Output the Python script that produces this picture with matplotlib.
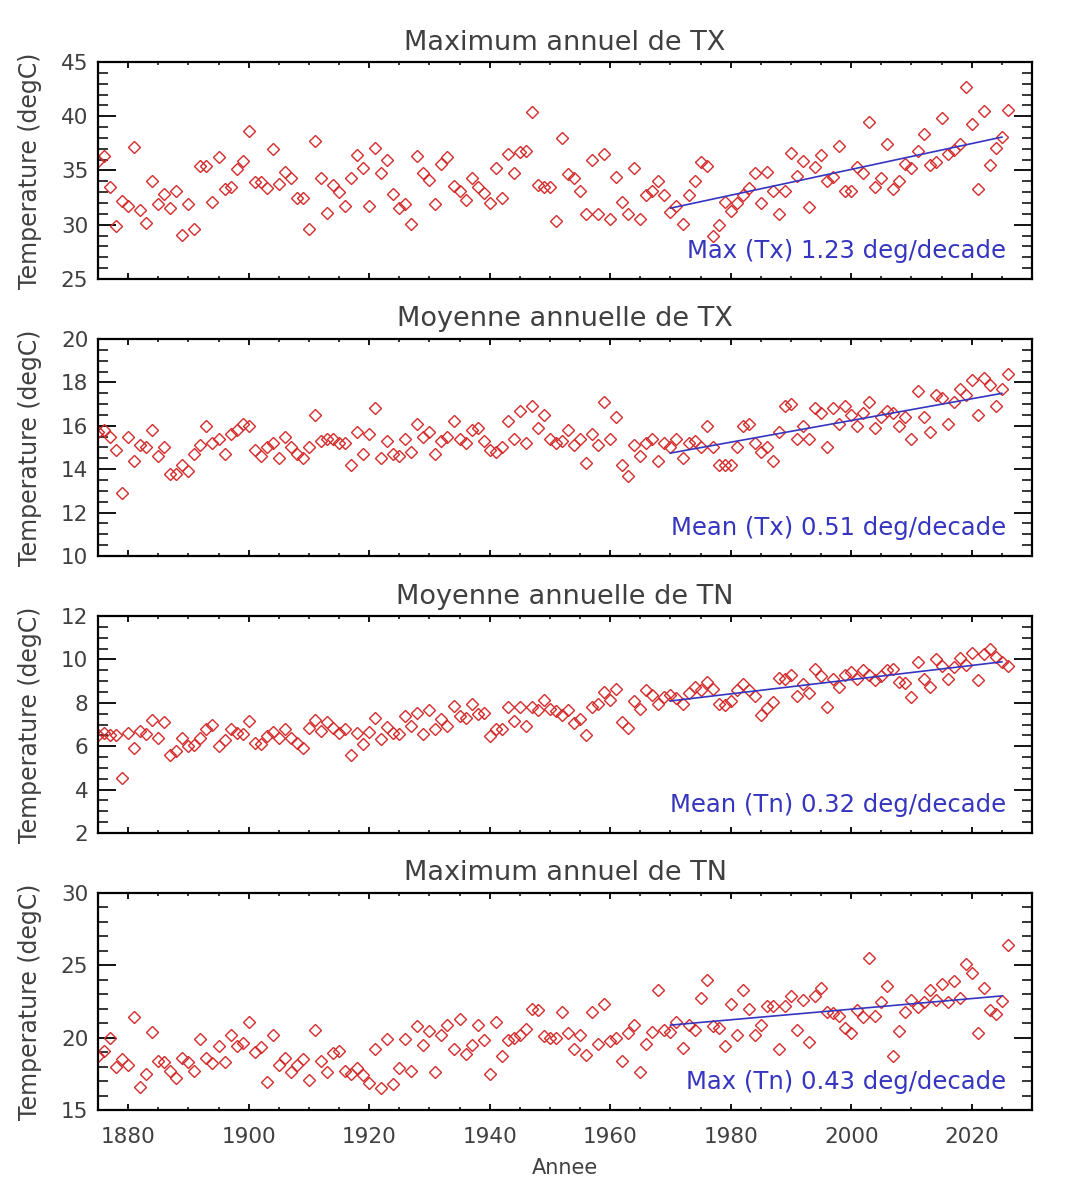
import matplotlib.pyplot as plt
from matplotlib.ticker import MultipleLocator
import numpy as np

# annual series, 1875 -> 2026
years = np.arange(1875, 2027)

tx_max = [35.9, 36.3, 33.5, 29.9, 32.2,
          31.7, 37.2, 31.4, 30.2, 34.0, 31.9, 32.8, 31.5, 33.1, 29.1,
          31.9, 29.6, 35.4, 35.4, 32.1, 36.2, 33.3, 33.5, 35.1, 35.9,
          38.6, 33.9, 33.9, 33.4, 37.0, 33.8, 34.9, 34.3, 32.5, 32.5,
          29.6, 37.7, 34.3, 31.1, 33.7, 33.0, 31.7, 34.3, 36.4, 35.2,
          31.7, 37.1, 34.8, 36.0, 32.8, 31.5, 31.9, 30.1, 36.3, 34.8,
          34.1, 31.9, 35.6, 36.2, 33.6, 33.1, 32.3, 34.3, 33.5, 32.9,
          32.0, 35.2, 32.5, 36.5, 34.8, 36.7, 36.8, 40.4, 33.7, 33.5,
          33.5, 30.3, 38.0, 34.7, 34.3, 33.1, 31.0, 36.0, 31.0, 36.5,
          30.5, 34.4, 32.1, 31.0, 35.2, 30.5, 32.7, 33.1, 34.0, 32.7,
          31.2, 31.7, 30.1, 32.7, 34.0, 35.8, 35.4, 29.0, 30.0, 32.1,
          31.3, 32.0, 32.7, 33.4, 34.8, 32.0, 34.9, 33.1, 31.0, 33.1,
          36.6, 34.5, 35.9, 31.6, 35.3, 36.4, 34.0, 34.4, 37.3, 33.1,
          33.1, 35.3, 34.8, 39.5, 33.5, 34.3, 37.4, 33.3, 34.0, 35.6,
          35.2, 36.8, 38.4, 35.5, 35.8, 39.8, 36.5, 36.9, 37.4, 42.7,
          39.3, 33.3, 40.5, 35.5, 37.1, 38.1, 40.6]

tx_mean = [15.7, 15.8, 15.5, 14.9, 12.9,
           15.5, 14.4, 15.1, 15.0, 15.8, 14.6, 15.0, 13.8, 13.8, 14.2,
           13.9, 14.7, 15.1, 16.0, 15.2, 15.4, 14.7, 15.6, 15.8, 16.1,
           16.0, 14.9, 14.6, 15.0, 15.2, 14.5, 15.5, 15.0, 14.7, 14.5,
           15.0, 16.5, 15.3, 15.4, 15.4, 15.2, 15.2, 14.2, 15.7, 14.7,
           15.6, 16.8, 14.5, 15.3, 14.7, 14.6, 15.4, 14.8, 16.1, 15.5,
           15.7, 14.7, 15.3, 15.5, 16.2, 15.4, 15.2, 15.8, 15.9, 15.3,
           14.9, 14.8, 15.0, 16.2, 15.4, 16.7, 15.2, 16.9, 15.9, 16.5,
           15.4, 15.2, 15.3, 15.8, 15.1, 15.4, 14.3, 15.6, 15.1, 17.1,
           15.4, 16.4, 14.2, 13.7, 15.1, 14.6, 15.2, 15.4, 14.4, 15.2,
           15.0, 15.4, 14.5, 15.2, 15.3, 15.0, 16.0, 15.0, 14.2, 14.2,
           14.2, 15.0, 16.0, 16.1, 15.2, 14.8, 15.0, 14.4, 15.7, 16.9,
           17.0, 15.4, 16.0, 15.4, 16.8, 16.6, 15.0, 16.8, 16.1, 16.9,
           16.5, 16.0, 16.6, 17.1, 15.9, 16.4, 16.7, 16.6, 16.0, 16.4,
           15.4, 17.6, 16.4, 15.7, 17.4, 17.3, 16.1, 17.1, 17.7, 17.4,
           18.1, 16.5, 18.2, 17.9, 16.9, 17.7, 18.4]

tn_mean = [6.5, 6.6, 6.5, 6.5, 4.55,
           6.6, 5.9, 6.7, 6.55, 7.2, 6.4, 7.1, 5.6, 5.8, 6.4,
           6.0, 6.05, 6.4, 6.8, 7.0, 6.0, 6.3, 6.8, 6.6, 6.55,
           7.15, 6.15, 6.1, 6.45, 6.65, 6.4, 6.8, 6.4, 6.15, 5.9,
           6.85, 7.2, 6.7, 7.1, 6.85, 6.6, 6.8, 5.6, 6.6, 6.1,
           6.65, 7.3, 6.35, 6.9, 6.6, 6.55, 7.4, 6.95, 7.55, 6.55,
           7.65, 6.8, 7.25, 6.95, 7.85, 7.4, 7.3, 7.95, 7.5, 7.55,
           6.45, 6.8, 6.8, 7.8, 7.15, 7.8, 6.95, 7.8, 7.65, 8.15,
           7.7, 7.6, 7.45, 7.65, 7.05, 7.25, 6.5, 7.8, 7.95, 8.5,
           8.15, 8.65, 7.1, 6.85, 8.1, 7.7, 8.6, 8.35, 7.95, 8.25,
           8.35, 8.2, 7.95, 8.45, 8.75, 8.6, 8.95, 8.65, 7.95, 7.9,
           8.1, 8.6, 8.85, 8.6, 8.3, 7.45, 7.75, 8.05, 9.15, 9.1,
           9.3, 8.3, 8.85, 8.45, 9.55, 9.25, 7.8, 9.1, 8.75, 9.3,
           9.4, 9.1, 9.5, 9.3, 9.05, 9.25, 9.5, 9.55, 8.95, 8.9,
           8.25, 9.9, 9.1, 8.75, 10.0, 9.7, 9.1, 9.65, 10.05, 9.75,
           10.3, 9.05, 10.25, 10.5, 10.1, 9.9, 9.7]

tn_max = [18.7, 19.05, 20.0, 18.0, 18.55,
          18.1, 21.4, 16.6, 17.5, 20.4, 18.4, 18.35, 17.7, 17.2, 18.6,
          18.35, 17.7, 19.9, 18.6, 18.25, 19.4, 18.3, 20.15, 19.45, 19.6,
          21.1, 19.0, 19.35, 16.95, 20.2, 18.1, 18.6, 17.6, 18.1, 18.55,
          17.1, 20.5, 18.4, 17.6, 18.95, 19.05, 17.7, 17.5, 17.9, 17.4,
          16.85, 19.25, 16.5, 19.9, 16.8, 17.9, 19.9, 17.7, 20.8, 19.5,
          20.45, 17.6, 20.15, 20.9, 19.2, 21.3, 18.9, 19.5, 20.9, 19.85,
          17.5, 21.1, 18.7, 19.85, 19.95, 20.2, 20.6, 22.0, 21.9, 20.1,
          20.0, 20.0, 21.8, 20.3, 19.25, 20.2, 18.8, 21.8, 19.55, 22.3,
          19.8, 20.0, 18.4, 20.3, 20.85, 17.6, 19.55, 20.4, 23.3, 20.5,
          20.4, 21.1, 19.3, 20.85, 20.5, 22.75, 24.0, 20.8, 20.7, 19.4,
          22.3, 20.2, 23.3, 22.0, 20.2, 20.9, 22.2, 22.2, 19.25, 22.2,
          22.85, 20.5, 22.6, 19.7, 22.9, 23.4, 21.8, 21.7, 21.5, 20.7,
          20.3, 21.9, 21.4, 25.5, 21.5, 22.5, 23.55, 18.7, 20.45, 21.8,
          22.6, 22.1, 22.5, 23.3, 22.6, 23.7, 22.5, 23.9, 22.75, 25.1,
          24.5, 20.3, 23.4, 21.9, 21.65, 22.55, 26.4]

titles = ["Maximum annuel de TX", "Moyenne annuelle de TX",
          "Moyenne annuelle de TN", "Maximum annuel de TN"]
trend_labels = ["Max (Tx) 1.23 deg/decade", "Mean (Tx) 0.51 deg/decade",
                "Mean (Tn) 0.32 deg/decade", "Max (Tn) 0.43 deg/decade"]
ylims = [(25, 45), (10, 20), (2, 12), (15, 30)]
ymajor = [5, 2, 2, 5]
yminor = [1, 0.5, 0.5, 1]
trend_start, trend_end = 1970, 2025

series = [tx_max, tx_mean, tn_mean, tn_max]

plt.rcParams['font.family'] = ['DejaVu Sans']
txtcol = '#404040'
red = '#d42a2a'
blue = '#3535c0'

fig = plt.figure(figsize=(10.72, 12), dpi=100)

# axes placement in figure fractions (px measured on the reference)
left, width = 98 / 1072, 934 / 1072
tops = [62, 339, 616, 893]
h = 217

for i, vals in enumerate(series):
    vals = np.array(vals)
    ax = fig.add_axes([left, 1 - (tops[i] + h) / 1200, width, h / 1200])

    ax.plot(years, vals, linestyle='none', marker='D', ms=6.2, mfc='none',
            mec=red, mew=1.0)

    # linear trend over the recent period
    sel = (years >= trend_start) & (years <= trend_end)
    p = np.polyfit(years[sel], vals[sel], 1)
    ax.plot(years[sel], np.polyval(p, years[sel]), color=blue, lw=1.2)

    ax.text(0.972, 0.095, trend_labels[i], transform=ax.transAxes,
            ha='right', va='baseline', fontsize=17.5, color=blue)

    ax.set_xlim(1875, 2030)
    ax.set_ylim(*ylims[i])
    ax.xaxis.set_major_locator(MultipleLocator(20))
    ax.xaxis.set_minor_locator(MultipleLocator(5))
    ax.yaxis.set_major_locator(MultipleLocator(ymajor[i]))
    ax.yaxis.set_minor_locator(MultipleLocator(yminor[i]))

    ax.tick_params(axis='both', which='both', direction='in',
                   top=True, right=True, colors='black',
                   labelcolor=txtcol, labelsize=15.5)
    ax.tick_params(axis='y', which='major', length=13, width=1.3, pad=7)
    ax.tick_params(axis='y', which='minor', length=7, width=1.1)
    ax.tick_params(axis='x', which='major', length=4, width=1.3, pad=12)
    ax.tick_params(axis='x', which='minor', length=2.5, width=1.1)
    for sp in ax.spines.values():
        sp.set_linewidth(1.6)

    ax.set_title(titles[i], fontsize=19.5, color=txtcol, pad=9)
    ax.set_ylabel("Temperature (degC)", fontsize=17, color=txtcol)
    ax.yaxis.set_label_coords(-0.06, 0.5)

    if i < 3:
        ax.tick_params(axis='x', labelbottom=False)
    else:
        ax.set_xlabel("Annee", fontsize=15, color=txtcol, labelpad=8)

fig.savefig("out.png", dpi=100)
